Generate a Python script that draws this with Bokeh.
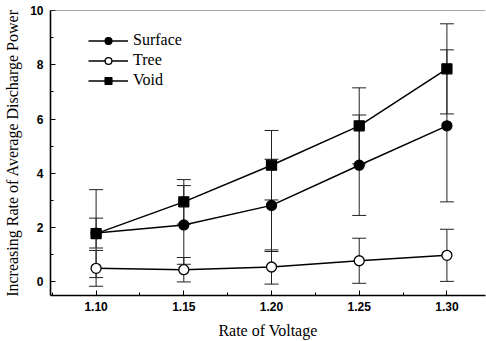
from bokeh.plotting import figure
from bokeh.models import (ColumnDataSource, Whisker, TeeHead, Range1d, Span,
                          Legend, LegendItem, FixedTicker)
from bokeh.embed import file_html
from bokeh.resources import INLINE

# ---- data ----
voltage = [1.10, 1.15, 1.20, 1.25, 1.30]
surface = [1.80, 2.10, 2.82, 4.30, 5.75]
surface_err = [0.55, 1.45, 1.70, 1.85, 2.80]
tree = [0.50, 0.45, 0.55, 0.78, 0.98]
tree_err = [0.66, 0.45, 0.63, 0.83, 0.96]
void = [1.78, 2.95, 4.30, 5.75, 7.85]
void_err = [1.62, 0.82, 1.28, 1.40, 1.66]
x_ticks = [1.10, 1.15, 1.20, 1.25, 1.30]
x_minor = [1.075, 1.125, 1.175, 1.225, 1.275, 1.325]
y_ticks = [0, 2, 4, 6, 8, 10]
y_minor = [1, 3, 5, 7, 9]
x_title = "Rate of Voltage"
y_title = "Increasing Rate of Average Discharge Power"

SERIF = "Liberation Serif"

p = figure(width=486, height=341, output_backend="svg", toolbar_location=None,
           x_range=Range1d(1.074, 1.322), y_range=Range1d(-0.5, 10),
           min_border_left=50, min_border_right=1, min_border_top=10,
           min_border_bottom=45, background_fill_color="white",
           border_fill_color="white")
p.outline_line_color = None
p.grid.visible = False

for ax in (p.xaxis[0], p.yaxis[0]):
    ax.axis_line_width = 1.6
    ax.axis_line_color = "black"
    ax.major_tick_in = 5
    ax.major_tick_out = 0
    ax.minor_tick_in = 3
    ax.minor_tick_out = 0
    ax.major_tick_line_color = "black"
    ax.minor_tick_line_color = "black"
    ax.major_label_text_font = "Liberation Sans"
    ax.major_label_text_font_style = "bold"
    ax.major_label_text_font_size = "12px"
    ax.major_label_text_color = "black"
    ax.axis_label_text_font = SERIF
    ax.axis_label_text_font_style = "normal"
    ax.axis_label_text_font_size = "16px"
    ax.axis_label_text_color = "black"

p.xaxis.ticker = FixedTicker(ticks=x_ticks, minor_ticks=x_minor)
p.yaxis.ticker = FixedTicker(ticks=y_ticks, minor_ticks=y_minor)
p.xaxis.major_label_overrides = {v: f"{v:.2f}" for v in x_ticks}
p.xaxis.axis_label = x_title
p.yaxis.axis_label = y_title
p.xaxis.major_label_standoff = 6
p.xaxis.axis_label_standoff = 8
p.yaxis.major_label_standoff = 7
p.yaxis.axis_label_standoff = 6

p.add_layout(Span(location=10, dimension="width", line_color="#555555", line_width=1))

series = [
    ("Surface", surface, surface_err, "circle", "black"),
    ("Tree", tree, tree_err, "circle", "white"),
    ("Void", void, void_err, "square", "black"),
]

items = []
for name, vals, errs, marker, fill in series:
    src = ColumnDataSource(dict(
        x=voltage, y=vals,
        upper=[v + e for v, e in zip(vals, errs)],
        lower=[v - e for v, e in zip(vals, errs)],
    ))
    w = Whisker(base="x", upper="upper", lower="lower", source=src,
                line_color="#222222", line_width=1,
                upper_head=TeeHead(size=14, line_color="#222222", line_width=1),
                lower_head=TeeHead(size=14, line_color="#222222", line_width=1))
    p.add_layout(w)
    ln = p.line("x", "y", source=src, line_color="black", line_width=1.5)
    sc = p.scatter("x", "y", source=src, marker=marker, size=10,
                   fill_color=fill, line_color="black", line_width=1.3)
    items.append(LegendItem(label=name, renderers=[ln, sc]))

legend = Legend(items=items, location=(38, 206), glyph_width=40, glyph_height=17,
                label_height=17, spacing=2, label_standoff=5, padding=0, margin=0,
                border_line_color=None, background_fill_alpha=0)
legend.label_text_font = SERIF
legend.label_text_font_size = "16px"
legend.label_text_font_style = "normal"
legend.label_text_color = "black"
p.add_layout(legend, "center")

open("out.html", "w").write(file_html(p, INLINE))
